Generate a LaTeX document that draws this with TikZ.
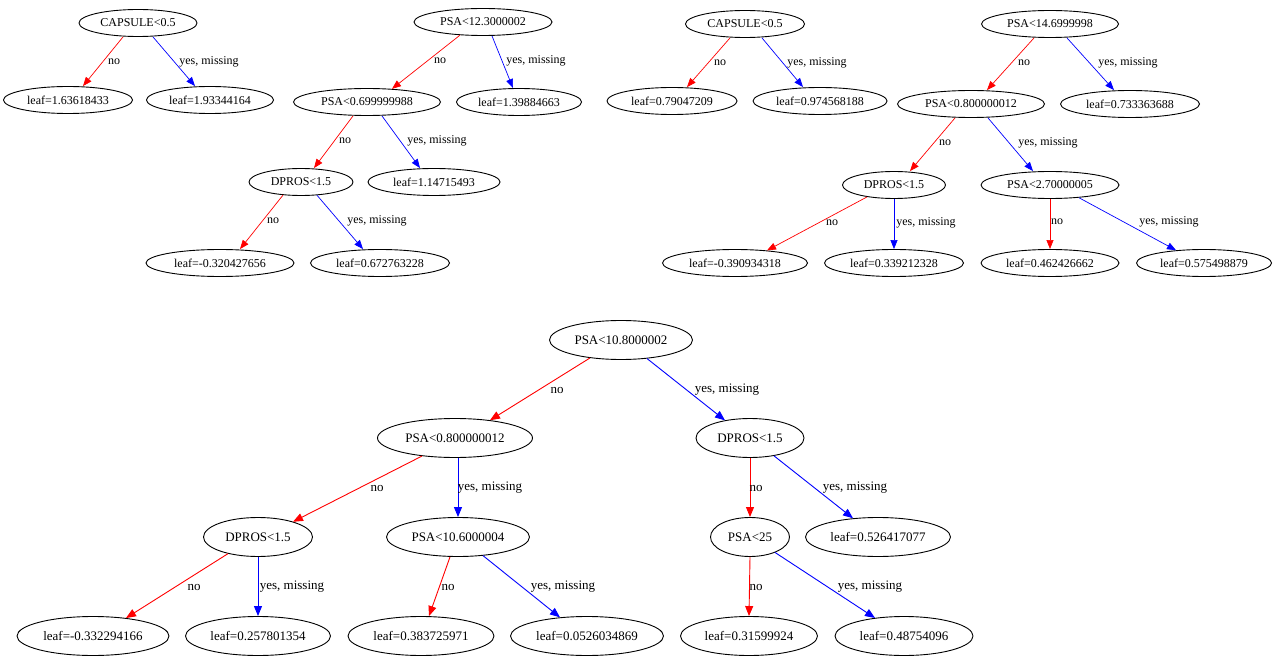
\documentclass[tikz,border=0pt]{standalone}
\usepackage{fontspec}
\setmainfont{Liberation Serif}
\usetikzlibrary{arrows.meta,shapes.geometric}
\newcommand{\ntx}[1]{\makebox[0pt]{#1}}
\tikzset{
  nd/.style={draw, ellipse, inner sep=0pt, line width=0.9pt, minimum height=27pt, font=\fontsize{12}{14}\selectfont},
  ndb/.style={nd, minimum height=39pt, font=\fontsize{13}{15}\selectfont},
  rd/.style={draw=red, line width=0.7pt, -{Triangle[length=9pt,width=7pt]}},
  bl/.style={draw=blue, line width=0.7pt, -{Triangle[length=9pt,width=7pt]}},
  rdb/.style={draw=red, line width=0.9pt, -{Triangle[length=10pt,width=8pt]}},
  blb/.style={draw=blue, line width=0.9pt, -{Triangle[length=10pt,width=8pt]}},
  lab/.style={inner sep=0pt, font=\fontsize{12}{14}\selectfont},
  labb/.style={inner sep=0pt, font=\fontsize{13}{15}\selectfont},
}
\begin{document}
\begin{tikzpicture}[x=1pt,y=-1pt]
\fill[white] (0,0) rectangle (1280,663);
\useasboundingbox (0,0) rectangle (1280,663);
% ---------- Tree 1
\node[nd, minimum width=118pt] (a0) at (138,23) {\ntx{CAPSULE<0.5}};
\node[nd, minimum width=129pt] (a1) at (68,100) {\ntx{leaf=1.63618433}};
\node[nd, minimum width=127pt] (a2) at (210,100) {\ntx{leaf=1.93344164}};
\draw[rd] ([xshift=-15pt]a0.south) -- ([xshift=15pt]a1.north);
\draw[bl] ([xshift=15pt]a0.south) -- ([xshift=-15pt]a2.north);
\node[lab] (a0n) at (114,62) {no};
\node[lab] (a0y) at (209,62) {yes, missing};
% ---------- Tree 2
\node[nd, minimum width=138pt] (b0) at (483,22) {\ntx{PSA<12.3000002}};
\node[nd, minimum width=147pt] (b1) at (367,102) {\ntx{PSA<0.699999988}};
\node[nd, minimum width=125pt] (b2) at (519,102) {\ntx{leaf=1.39884663}};
\node[nd, minimum width=104pt] (b3) at (301,182) {\ntx{DPROS<1.5}};
\node[nd, minimum width=132pt] (b4) at (434,182) {\ntx{leaf=1.14715493}};
\node[nd, minimum width=148pt] (b5) at (220,263) {\ntx{leaf=-0.320427656}};
\node[nd, minimum width=139pt] (b6) at (380,263) {\ntx{leaf=0.672763228}};
\draw[rd] ([xshift=-23pt,yshift=0.8pt]b0.south) -- ([xshift=25pt,yshift=-0.8pt]b1.north);
\draw[bl] ([xshift=9pt]b0.south) -- ([xshift=-6pt]b2.north);
\draw[rd] ([xshift=-14pt]b1.south) -- ([xshift=13pt]b3.north);
\draw[bl] ([xshift=15pt]b1.south) -- ([xshift=-14pt]b4.north);
\draw[rd] ([xshift=-18pt,yshift=0.8pt]b3.south) -- ([xshift=20pt]b5.north);
\draw[bl] ([xshift=16pt,yshift=0.7pt]b3.south) -- ([xshift=-17pt]b6.north);
\node[lab] (b0n) at (440,61) {no};
\node[lab] (b0y) at (536,61) {yes, missing};
\node[lab] (b1n) at (345,141) {no};
\node[lab] (b1y) at (437,141) {yes, missing};
\node[lab] (b3n) at (273,221) {no};
\node[lab] (b3y) at (377,221) {yes, missing};
% ---------- Tree 3
\node[nd, minimum width=119pt] (c0) at (745,24) {\ntx{CAPSULE<0.5}};
\node[nd, minimum width=130pt] (c1) at (672,101) {\ntx{leaf=0.79047209}};
\node[nd, minimum width=134pt] (c2) at (820,101) {\ntx{leaf=0.974568188}};
\draw[rd] ([xshift=-15pt]c0.south) -- ([xshift=15pt]c1.north);
\draw[bl] ([xshift=17pt]c0.south) -- ([xshift=-17pt]c2.north);
\node[lab] (c0n) at (720,63) {no};
\node[lab] (c0y) at (817,63) {yes, missing};
% ---------- Tree 4
\node[nd, minimum width=137pt] (d0) at (1050,24) {\ntx{PSA<14.6999998}};
\node[nd, minimum width=147pt] (d1) at (971,104) {\ntx{PSA<0.800000012}};
\node[nd, minimum width=139pt] (d2) at (1130,104) {\ntx{leaf=0.733363688}};
\node[nd, minimum width=103pt] (d3) at (894,185) {\ntx{DPROS<1.5}};
\node[nd, minimum width=138pt] (d4) at (1050,185) {\ntx{PSA<2.70000005}};
\node[nd, minimum width=145pt] (d5) at (735,263) {\ntx{leaf=-0.390934318}};
\node[nd, minimum width=139pt] (d6) at (894,263) {\ntx{leaf=0.339212328}};
\node[nd, minimum width=138pt] (d7) at (1050,263) {\ntx{leaf=0.462426662}};
\node[nd, minimum width=135pt] (d8) at (1204,263) {\ntx{leaf=0.575498879}};
\draw[rd] ([xshift=-16pt]d0.south) -- ([xshift=16pt]d1.north);
\draw[bl] ([xshift=17pt]d0.south) -- ([xshift=-16pt]d2.north);
\draw[rd] ([xshift=-16pt]d1.south) -- ([xshift=16pt]d3.north);
\draw[bl] ([xshift=17pt]d1.south) -- ([xshift=-17pt]d4.north);
\draw[rd] (d4.south) -- (d7.north);
\draw[bl] ([xshift=29pt,yshift=1.2pt]d4.south) -- ([xshift=-28pt,yshift=-1.2pt]d8.north);
\draw[rd] ([xshift=-27pt,yshift=2pt]d3.south) -- ([xshift=32pt,yshift=-1.4pt]d5.north);
\draw[bl] (d3.south) -- (d6.north);
\node[lab] (d0n) at (1024,63) {no};
\node[lab] (d0y) at (1128,63) {yes, missing};
\node[lab] (d1n) at (945,143) {no};
\node[lab] (d1y) at (1048,143) {yes, missing};
\node[lab] (d4n) at (1057,222) {no};
\node[lab] (d4y) at (1169,222) {yes, missing};
\node[lab] (d3n) at (832,223) {no};
\node[lab] (d3y) at (926,223) {yes, missing};
% ---------- Bottom tree
\node[ndb, minimum width=143pt] (e0) at (621,340) {\ntx{PSA<10.8000002}};
\node[ndb, minimum width=155pt] (e1) at (455,438) {\ntx{PSA<0.800000012}};
\node[ndb, minimum width=108pt] (e2) at (750,438) {\ntx{DPROS<1.5}};
\node[ndb, minimum width=109pt] (e3) at (258,537) {\ntx{DPROS<1.5}};
\node[ndb, minimum width=143pt] (e4) at (458,537) {\ntx{PSA<10.6000004}};
\node[ndb, minimum width=79pt] (e5) at (750,537) {\ntx{PSA<25}};
\node[ndb, minimum width=145pt] (e6) at (878,537) {\ntx{leaf=0.526417077}};
\node[ndb, minimum width=152pt] (e7) at (93,636) {\ntx{leaf=-0.332294166}};
\node[ndb, minimum width=145pt] (e8) at (258,636) {\ntx{leaf=0.257801354}};
\node[ndb, minimum width=146pt] (e9) at (421,636) {\ntx{leaf=0.383725971}};
\node[ndb, minimum width=153pt] (e10) at (587,636) {\ntx{leaf=0.0526034869}};
\node[ndb, minimum width=137pt] (e11) at (749,636) {\ntx{leaf=0.31599924}};
\node[ndb, minimum width=138pt] (e12) at (904,636) {\ntx{leaf=0.48754096}};
\draw[rdb] ([xshift=-31pt,yshift=2pt]e0.south) -- ([xshift=35pt,yshift=-2.2pt]e1.north);
\draw[blb] ([xshift=26pt,yshift=1.4pt]e0.south) -- ([xshift=-25pt,yshift=-2.3pt]e2.north);
\draw[rdb] ([xshift=-33pt,yshift=1.9pt]e1.south) -- ([xshift=35pt,yshift=-4.7pt]e3.north);
\draw[blb] ([xshift=3pt]e1.south) -- (e4.north);
\draw[rdb] ([xshift=-30pt,yshift=3.3pt]e3.south) -- ([xshift=33pt,yshift=-2pt]e7.north);
\draw[blb] (e3.south) -- (e8.north);
\draw[rdb] ([xshift=-8pt]e4.south) -- ([xshift=8pt]e9.north);
\draw[blb] ([xshift=25pt,yshift=1.3pt]e4.south) -- ([xshift=-27pt,yshift=-1.3pt]e10.north);
\draw[rdb] (e2.south) -- (e5.north);
\draw[blb] ([xshift=24pt,yshift=2.1pt]e2.south) -- ([xshift=-25pt,yshift=-1.2pt]e6.north);
\draw[rdb] (e5.south) -- ([xshift=0pt]e11.north);
\draw[blb] ([xshift=25pt,yshift=4.5pt]e5.south) -- ([xshift=-29pt,yshift=-1.9pt]e12.north);
\node[labb] (e0n) at (557,390) {no};
\node[labb] (e0y) at (727,390) {yes, missing};
\node[labb] (e1n) at (377,488) {no};
\node[labb] (e1y) at (490,488) {yes, missing};
\node[labb] (e2n) at (756,488) {no};
\node[labb] (e2y) at (855,488) {yes, missing};
\node[labb] (e3n) at (194,587) {no};
\node[labb] (e3y) at (292,587) {yes, missing};
\node[labb] (e4n) at (448,587) {no};
\node[labb] (e4y) at (563,587) {yes, missing};
\node[labb] (e5n) at (756,587) {no};
\node[labb] (e5y) at (870,587) {yes, missing};
\end{tikzpicture}
\end{document}
